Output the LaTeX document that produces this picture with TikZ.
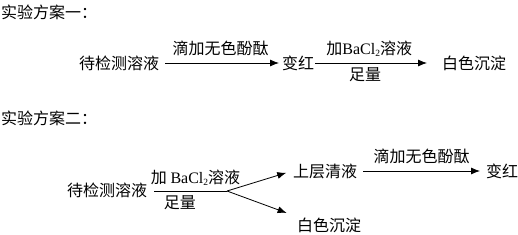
\documentclass[tikz,border=0pt]{standalone}
\usepackage{fontspec}
\setmainfont{Noto Sans CJK SC}
\newfontfamily\latinfont{Liberation Serif}
\usetikzlibrary{arrows.meta,positioning}

\newcommand{\bacl}{{\latinfont BaCl\raisebox{-0.3ex}{\fontsize{9.5}{9.5}\selectfont 2}}}

\tikzset{
  txt/.style={anchor=west, inner sep=1pt},
  lbl/.style={inner sep=1pt},
  react/.style={line width=0.8pt},
}

\begin{document}
\begin{tikzpicture}[x=1pt, y=-1pt, font=\fontsize{16}{19}\selectfont,
    >={Latex[length=9pt,width=7pt]}]
    \useasboundingbox (0,0) rectangle (518,234);

    % Scheme one
    \node[txt] (title1) at (0,12) {实验方案一：};
    \node[txt] (sample1) at (78,63) {待检测溶液};
    \node[txt] (red1) at (281,63) {变红};
    \node[txt] (ppt1) at (441,63) {白色沉淀};
    \draw[react, ->, shorten <=5pt, shorten >=2pt] (sample1) --
        node[lbl, above=6pt] {滴加无色酚酞} (red1);
    \draw[react, ->, shorten >=14pt] (red1) --
        node[lbl, above=5pt, xshift=-9pt] {加\bacl 溶液}
        node[lbl, below=3pt, xshift=-13pt] {足量} (ppt1);

    % Scheme two
    \node[txt] (title2) at (0,118) {实验方案二：};
    \node[txt] (sample2) at (66,190) {待检测溶液};
    \coordinate (fork) at (227,191);
    \node[txt] (clear) at (292,171) {上层清液};
    \node[txt] (ppt2) at (296,225) {白色沉淀};
    \node[txt] (red2) at (485,171) {变红};
    \draw[react, shorten <=6pt] (sample2.east |- fork) --
        node[lbl, above=4pt, pos=0.6] {加 \bacl 溶液}
        node[lbl, below=3pt, pos=0.4] {足量} (fork);
    \draw[react, ->, shorten >=6pt] (fork) -- (clear.west);
    \draw[react, ->, shorten >=10pt] (fork) -- (ppt2.north west);
    \draw[react, ->, shorten <=5pt, shorten >=5pt] (clear) --
        node[lbl, above=6pt] {滴加无色酚酞} (red2);
\end{tikzpicture}
\end{document}
